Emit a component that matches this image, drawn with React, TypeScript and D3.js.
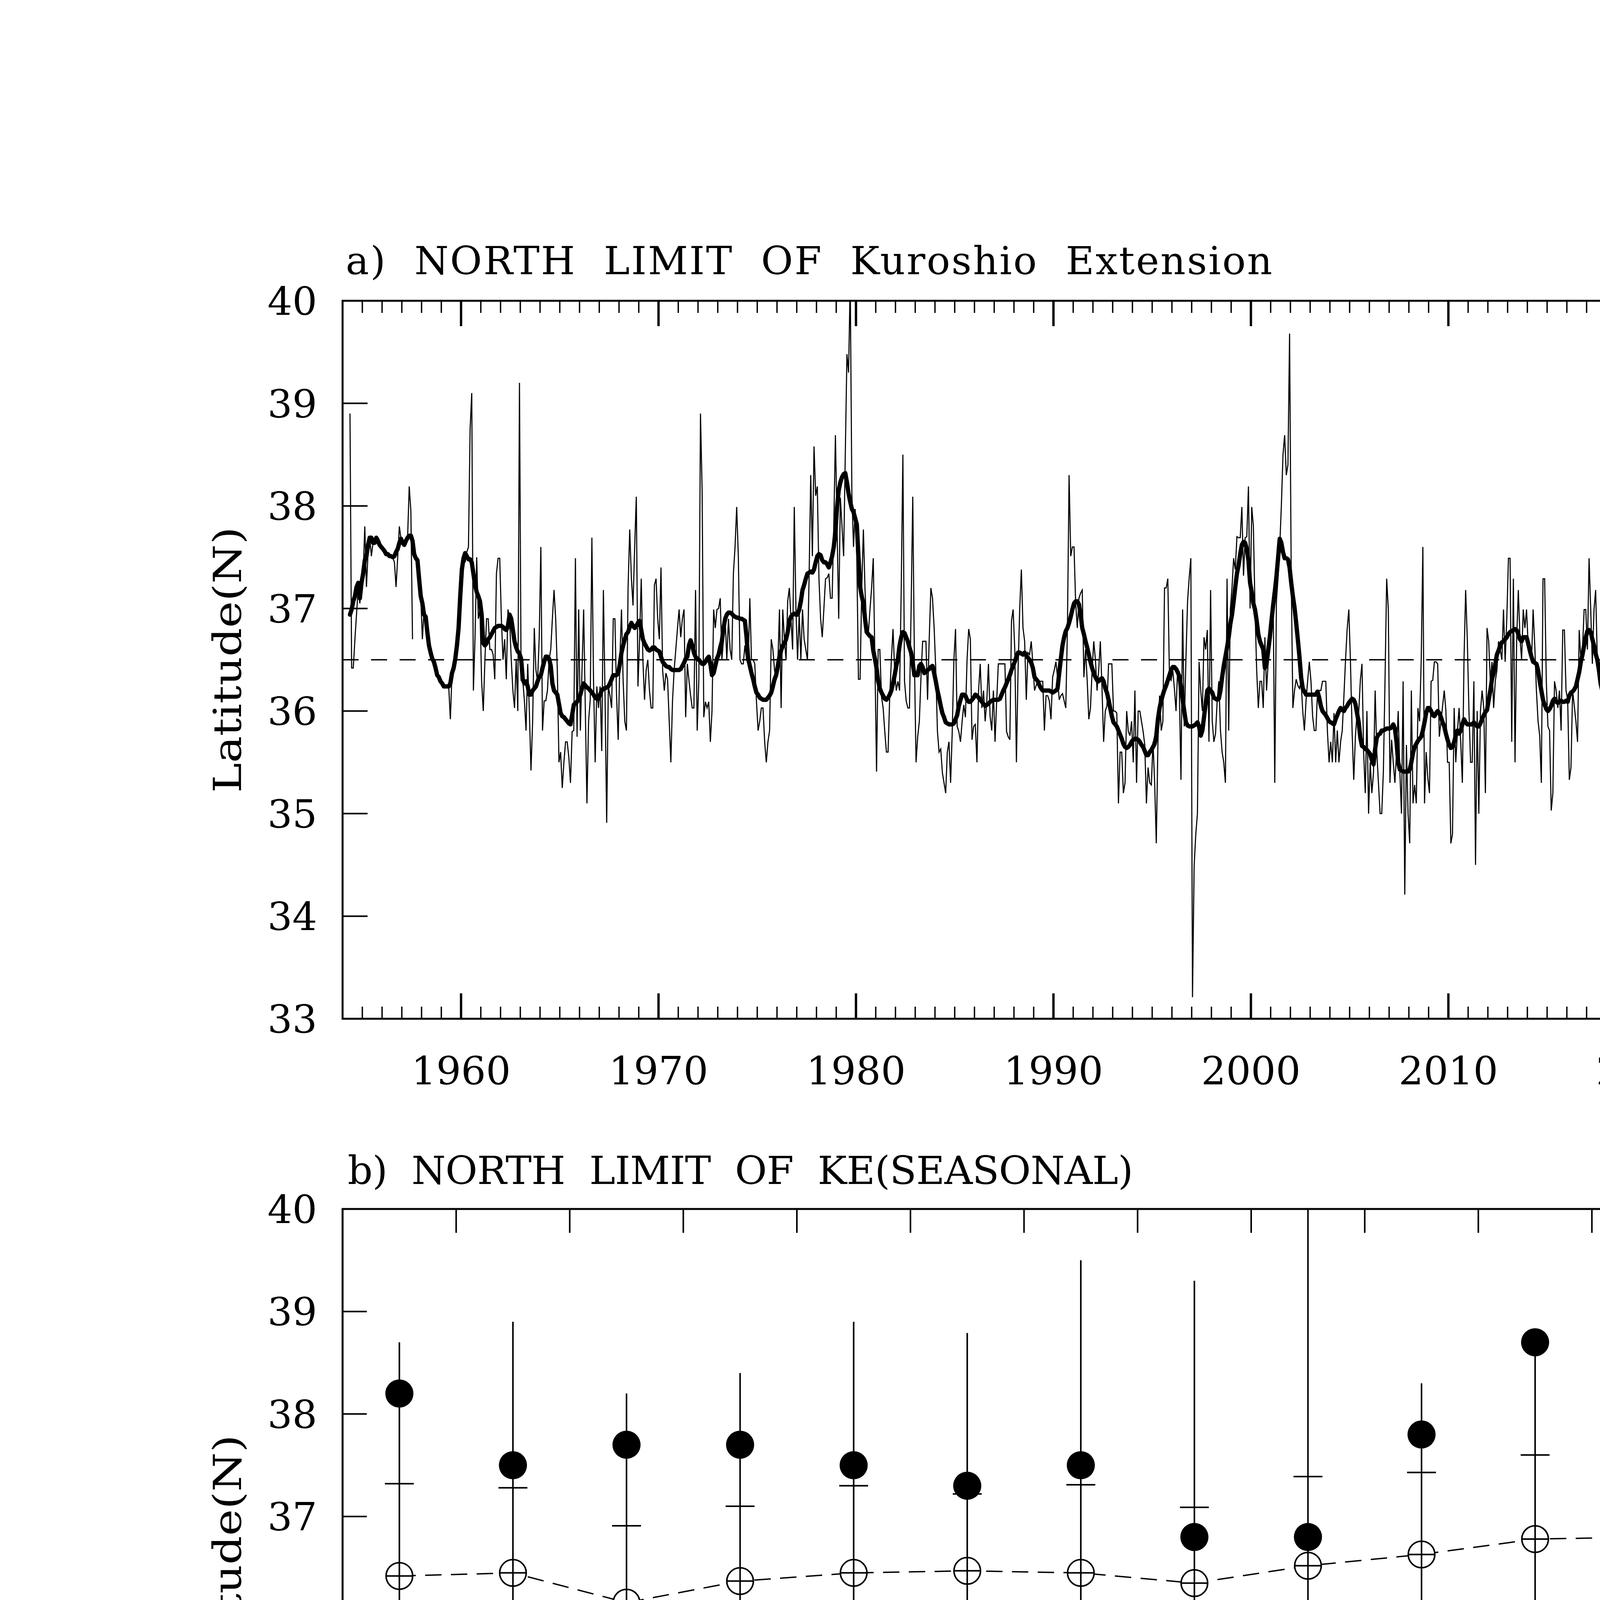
import React from 'react';
import * as d3 from 'd3';

// ---------------- DATA ----------------
// Panel a: monthly northern limit of Kuroshio Extension (deg N), Jan..Dec per year
const firstYear = 1954;
const axisYearStart = 1954;
const axisYearEnd = 2023;
const latMin = 33;
const latMax = 40;
const latTicks = [33, 34, 35, 36, 37, 38, 39, 40];
const decadeTicks = [1960, 1970, 1980, 1990, 2000, 2010, 2020];
const referenceLat = 36.5;

const monthly1950s: (number | null)[][] = [
  [null, null, null, null, 38.9, 36.42, 36.42, 36.7, 36.95, 37.2, 37.05, 37.3],
  [37.34, 37.8, 37.21, 37.55, 37.69, 37.51, 37.64, 37.66, 37.69, 37.67, 37.62, 37.6],
  [37.58, 37.56, 37.53, 37.53, 37.51, 37.51, 37.5, 37.45, 37.21, 37.5, 37.8, 37.68],
  [37.64, 37.62, 37.66, 37.69, 38.19, 37.95, 36.7, null, 37.49, 37.47, 37.29, 37.12],
  [36.7, 36.99, 36.92, 36.77, 36.64, 36.57, 36.51, 36.48, 36.42, 36.35, 36.33, 36.29],
  [36.27, 36.24, 36.24, 36.24, 36.24, 35.92, 36.37, 36.42, 36.51, 36.64, 36.81, 37.12],
];
const monthly1960s: (number | null)[][] = [
  [37.38, 37.5, 37.45, 37.55, 37.6, 38.75, 39.1, 36.2, 36.72, 37.5, 36.9, 36.99],
  [36.29, 36.0, 36.5, 36.9, 36.9, 36.6, 36.6, 36.55, 36.31, 37.34, 37.49, 37.49],
  [36.9, 36.5, 36.7, 36.31, 36.99, 36.9, 36.5, 36.2, 36.03, 36.5, 36.0, 39.2],
  [36.3, 36.3, 36.1, 35.81, 36.46, 36.0, 35.42, 35.9, 36.81, 36.4, 36.29, 36.72],
  [37.6, 35.81, 36.1, 36.1, 36.2, 36.5, 36.6, 36.9, 37.18, 36.9, 36.4, 35.5],
  [35.6, 35.25, 35.5, 35.7, 35.7, 35.55, 35.3, 35.8, 35.81, 37.49, 35.75, 36.99],
  [35.81, 36.4, 36.99, 36.03, 35.1, 35.9, 36.11, 37.69, 36.3, 35.5, 36.24, 36.03],
  [36.24, 35.61, 37.18, 36.15, 34.91, 36.24, 36.15, 36.03, 36.9, 36.9, 36.15, 35.72],
  [36.5, 36.99, 36.29, 35.9, 35.81, 37.2, 37.77, 37.3, 37.03, 37.6, 38.09, 36.24],
  [36.7, 37.29, 36.5, 36.11, 36.4, 36.5, 36.2, 36.03, 36.03, 37.23, 37.29, 36.9],
];
const monthly1970s: (number | null)[][] = [
  [36.7, 37.4, 36.4, 36.2, 36.37, 36.31, 35.9, 35.5, 36.1, 36.4, 36.6, 36.8],
  [36.99, 36.72, 36.9, 36.99, 35.94, 36.46, 36.3, 36.15, 36.03, 36.03, 37.18, 35.81],
  [36.3, 38.9, 38.15, 35.94, 36.09, 36.03, 36.09, 35.7, 36.0, 36.99, 36.81, 36.99],
  [37.0, 37.1, 36.5, 36.7, 36.9, 36.5, 36.9, 36.6, 36.5, 37.34, 37.6, 37.99],
  [37.51, 36.5, 36.46, 36.46, 36.64, 36.5, 36.46, 37.1, 36.5, 36.5, 36.46, 36.1],
  [35.81, 35.9, 36.03, 36.03, 35.7, 35.5, 35.7, 35.81, 36.7, 36.6, 36.4, 36.3],
  [36.46, 36.99, 36.03, 36.99, 36.7, 36.5, 37.07, 37.2, 36.9, 36.6, 37.99, 37.0],
  [36.5, 36.95, 36.5, 36.99, 36.7, 36.6, 36.5, 37.3, 38.3, 37.51, 38.58, 38.1],
  [38.19, 37.29, 36.9, 36.72, 37.0, 37.29, 37.3, 37.34, 37.1, 37.1, 37.8, 38.69],
  [37.8, 36.9, 38.08, 37.8, 37.51, 38.5, 39.48, 39.3, 40.2, 38.12, 37.6, 37.97],
];
const monthly1980s: (number | null)[][] = [
  [37.5, 36.31, 36.31, 37.2, 37.77, 37.18, 36.8, 36.75, 36.99, 37.2, 37.49, 36.5],
  [35.41, 36.6, 36.6, 36.14, 36.03, 35.8, 35.6, 35.6, 36.14, 36.5, 36.8, 36.4],
  [36.2, 36.29, 36.2, 37.2, 38.5, 36.29, 36.1, 36.03, 36.03, 37.0, 38.09, 36.5],
  [35.5, 35.75, 35.9, 36.33, 36.68, 36.68, 36.68, 36.11, 36.7, 37.2, 37.1, 36.81],
  [36.4, 35.8, 35.6, 35.63, 35.4, 35.3, 35.2, 35.6, 35.7, 35.3, 35.8, 36.5],
  [36.8, 35.85, 35.8, 35.7, 35.9, 36.06, 35.94, 36.5, 36.8, 36.7, 35.72, 35.85],
  [35.87, 35.5, 36.2, 36.46, 36.03, 36.2, 35.9, 36.1, 36.46, 35.95, 35.81, 36.2],
  [35.7, 36.1, 36.46, 36.46, 36.46, 36.46, 36.46, 35.8, 35.75, 35.72, 36.88, 36.99],
  [36.6, 35.5, 36.4, 37.0, 37.38, 36.81, 36.68, 36.11, 36.57, 36.55, 36.68, 36.46],
  [36.2, 36.25, 36.29, 36.29, 36.29, 36.29, 35.81, 36.15, 36.15, 36.1, 35.92, 36.33],
];
const monthly1990s: (number | null)[][] = [
  [36.4, 36.48, 36.33, 36.11, 36.15, 36.17, 36.1, 36.03, 36.81, 38.3, 37.51, 37.6],
  [37.6, 37.05, 36.81, 37.1, 37.15, 37.18, 36.33, 36.6, 36.3, 35.92, 36.03, 36.4],
  [36.68, 36.5, 36.2, 36.4, 36.68, 36.22, 35.7, 36.0, 36.05, 36.46, 36.46, 36.46],
  [36.0, 36.0, 35.98, 35.1, 35.6, 35.6, 35.2, 35.3, 36.0, 35.8, 35.76, 35.9],
  [35.5, 36.2, 35.3, 36.0, 36.0, 35.9, 35.8, 35.67, 35.1, 35.45, 35.3, 35.28],
  [35.7, 35.3, 34.71, 35.7, 36.15, 35.81, 35.9, 37.2, 37.2, 37.29, 36.33, 36.3],
  [36.4, 36.22, 36.0, 36.42, 36.2, 35.33, 36.99, 35.85, 36.5, 37.07, 37.3, 37.49],
  [33.21, 34.49, 34.8, 35.0, 36.48, 36.2, 36.0, 36.72, 36.6, 36.79, 35.7, 37.18],
  [35.9, 35.7, 35.78, 36.1, 36.29, 35.81, 35.6, 35.5, 35.3, 37.29, 35.81, 36.99],
  [37.2, 37.49, 37.38, 37.7, 37.69, 37.69, 37.99, 37.32, 37.69, 37.7, 38.19, 37.0],
];
const monthly2000s: (number | null)[][] = [
  [37.99, 37.8, 36.99, 36.4, 36.03, 36.29, 36.29, 36.03, 36.72, 36.2, 36.48, 36.7],
  [36.99, 37.16, 35.3, 37.07, 37.3, 37.6, 38.0, 38.5, 38.69, 38.3, 38.4, 39.68],
  [37.3, 36.03, 36.2, 36.31, 36.25, 36.22, 36.29, 36.0, 35.81, 36.1, 36.3, 36.48],
  [36.29, 35.95, 35.81, 35.81, 36.2, 36.2, 36.2, 36.29, 36.29, 36.29, 35.8, 35.5],
  [35.7, 35.5, 35.98, 35.5, 35.81, 35.5, 35.7, 35.81, 36.14, 36.5, 36.8, 36.99],
  [36.48, 35.8, 35.33, 35.75, 35.98, 35.98, 36.3, 36.46, 35.6, 35.2, 36.0, 35.0],
  [35.5, 35.2, 35.4, 36.2, 35.6, 35.3, 35.0, 35.0, 35.41, 36.3, 37.29, 36.99],
  [35.3, 35.72, 35.5, 35.3, 35.6, 36.0, 35.41, 35.0, 36.29, 34.21, 35.67, 35.0],
  [34.71, 36.2, 35.1, 35.28, 35.1, 36.03, 35.9, 36.5, 37.6, 35.1, 35.6, 35.35],
  [35.2, 36.29, 36.3, 36.48, 36.48, 36.46, 35.75, 35.9, 36.05, 36.2, 36.0, 35.5],
];
const monthly2010s: (number | null)[][] = [
  [35.5, 34.71, 34.8, 36.03, 35.5, 35.8, 36.03, 35.7, 35.3, 36.5, 37.18, 36.7],
  [36.0, 35.5, 35.5, 36.29, 34.5, 36.0, 35.0, 36.0, 36.2, 36.03, 35.2, 36.81],
  [36.68, 36.29, 36.48, 36.03, 36.29, 36.4, 36.68, 36.6, 36.5, 36.99, 36.48, 36.9],
  [37.49, 37.49, 35.7, 37.29, 35.5, 36.7, 37.18, 36.72, 36.5, 36.99, 36.81, 36.99],
  [36.64, 36.55, 36.48, 36.99, 36.64, 36.2, 35.9, 35.76, 35.3, 37.29, 37.29, 36.3],
  [35.85, 35.81, 35.03, 35.2, 36.29, 36.2, 36.03, 36.2, 35.81, 36.79, 36.79, 36.2],
  [36.11, 35.33, 35.45, 36.2, 36.05, 35.9, 35.7, 36.79, 36.5, 36.6, 36.99, 36.99],
  [36.6, 37.49, 36.99, 36.46, 36.99, 37.18, 36.5, 36.4, 36.29, 36.0, 35.5, 36.11],
  [36.03, 35.6, 35.33, 36.03, 36.29, 36.22, 36.3, 36.4, 36.5, 36.7, 36.4, 36.31],
  [36.72, 36.5, 37.69, 37.93, 37.51, 35.81, 36.72, 36.79, 36.72, 36.94, 37.07, 37.69],
];
const monthly2020s: (number | null)[][] = [
  [36.81, 36.99, 37.2, 37.49, 37.4, 37.18, 36.99, 37.49, 37.99, 36.99, 37.2, 37.77],
  [38.69, 37.69, 38.2, 38.4, 37.69, 38.78, 37.69, 38.19, 38.19, 37.51, 37.69, 37.69],
  [38.19, 37.51, 37.69, 37.69, 37.51, 37.29, 37.49, 36.81, 36.81, 37.8, 38.7, 38.19],
];

// Panel a: running mean (thick line)
const smooth1950s: (number | null)[][] = [
  [null, null, null, null, 36.94, 36.99, 37.07, 37.12, 37.21, 37.25, 37.1, 37.25],
  [37.34, 37.47, 37.51, 37.62, 37.69, 37.69, 37.64, 37.64, 37.69, 37.66, 37.62, 37.6],
  [37.58, 37.56, 37.53, 37.53, 37.51, 37.51, 37.5, 37.51, 37.55, 37.58, 37.64, 37.68],
  [37.64, 37.62, 37.66, 37.69, 37.71, 37.71, 37.66, 37.53, 37.49, 37.47, 37.29, 37.12],
  [37.05, 36.94, 36.92, 36.77, 36.64, 36.57, 36.51, 36.48, 36.42, 36.35, 36.33, 36.29],
  [36.27, 36.24, 36.24, 36.24, 36.24, 36.27, 36.37, 36.42, 36.51, 36.64, 36.81, 37.12],
];
const smooth1960s: (number | null)[][] = [
  [37.38, 37.49, 37.54, 37.51, 37.48, 37.48, 37.45, 37.34, 37.23, 37.16, 37.12, 37.07],
  [36.94, 36.66, 36.64, 36.66, 36.7, 36.72, 36.75, 36.78, 36.81, 36.82, 36.83, 36.83],
  [36.83, 36.82, 36.8, 36.79, 36.83, 36.94, 36.9, 36.79, 36.68, 36.62, 36.58, 36.56],
  [36.51, 36.31, 36.27, 36.29, 36.24, 36.16, 36.16, 36.2, 36.22, 36.24, 36.29, 36.33],
  [36.35, 36.42, 36.48, 36.53, 36.53, 36.51, 36.44, 36.27, 36.2, 36.18, 36.16, 36.07],
  [35.98, 35.95, 35.94, 35.92, 35.9, 35.88, 35.87, 35.96, 36.06, 36.08, 36.09, 36.12],
  [36.16, 36.22, 36.27, 36.25, 36.23, 36.22, 36.2, 36.18, 36.16, 36.13, 36.12, 36.12],
  [36.16, 36.2, 36.22, 36.22, 36.23, 36.24, 36.27, 36.31, 36.35, 36.35, 36.35, 36.37],
  [36.46, 36.57, 36.64, 36.7, 36.75, 36.77, 36.82, 36.86, 36.83, 36.81, 36.83, 36.86],
  [36.88, 36.79, 36.7, 36.66, 36.63, 36.6, 36.59, 36.6, 36.62, 36.62, 36.6, 36.59],
];
const smooth1970s: (number | null)[][] = [
  [36.58, 36.53, 36.48, 36.46, 36.44, 36.43, 36.43, 36.41, 36.4, 36.4, 36.4, 36.4],
  [36.4, 36.41, 36.44, 36.47, 36.51, 36.53, 36.64, 36.69, 36.64, 36.57, 36.53, 36.51],
  [36.5, 36.48, 36.46, 36.46, 36.48, 36.51, 36.53, 36.46, 36.35, 36.37, 36.44, 36.51],
  [36.55, 36.62, 36.68, 36.81, 36.9, 36.94, 36.96, 36.96, 36.95, 36.93, 36.92, 36.91],
  [36.91, 36.9, 36.9, 36.89, 36.88, 36.72, 36.51, 36.44, 36.37, 36.31, 36.24, 36.18],
  [36.16, 36.13, 36.12, 36.11, 36.11, 36.11, 36.13, 36.15, 36.18, 36.24, 36.31, 36.35],
  [36.44, 36.53, 36.59, 36.64, 36.66, 36.7, 36.77, 36.88, 36.92, 36.94, 36.95, 36.94],
  [36.94, 36.99, 37.07, 37.18, 37.23, 37.29, 37.34, 37.35, 37.36, 37.35, 37.38, 37.45],
  [37.51, 37.53, 37.52, 37.47, 37.45, 37.45, 37.43, 37.4, 37.45, 37.51, 37.6, 37.75],
  [37.99, 38.15, 38.23, 38.28, 38.31, 38.32, 38.23, 38.12, 38.04, 37.97, 37.94, 37.88],
];
const smooth1980s: (number | null)[][] = [
  [37.82, 37.51, 37.21, 37.12, 37.05, 36.9, 36.77, 36.75, 36.73, 36.72, 36.59, 36.51],
  [36.42, 36.29, 36.22, 36.18, 36.15, 36.12, 36.11, 36.13, 36.16, 36.2, 36.27, 36.35],
  [36.44, 36.51, 36.64, 36.72, 36.77, 36.76, 36.72, 36.68, 36.62, 36.57, 36.46, 36.35],
  [36.35, 36.35, 36.44, 36.46, 36.43, 36.37, 36.38, 36.4, 36.41, 36.43, 36.44, 36.37],
  [36.29, 36.2, 36.13, 36.05, 35.98, 35.94, 35.89, 35.88, 35.87, 35.87, 35.87, 35.88],
  [35.92, 35.96, 36.05, 36.11, 36.16, 36.16, 36.15, 36.11, 36.09, 36.09, 36.11, 36.13],
  [36.16, 36.15, 36.13, 36.11, 36.09, 36.07, 36.05, 36.06, 36.07, 36.09, 36.1, 36.11],
  [36.11, 36.11, 36.11, 36.12, 36.16, 36.2, 36.23, 36.27, 36.31, 36.35, 36.4, 36.44],
  [36.48, 36.53, 36.57, 36.57, 36.56, 36.55, 36.57, 36.54, 36.52, 36.5, 36.47, 36.42],
  [36.33, 36.31, 36.29, 36.25, 36.22, 36.2, 36.2, 36.2, 36.2, 36.2, 36.19, 36.18],
];
const smooth1990s: (number | null)[][] = [
  [36.19, 36.2, 36.22, 36.37, 36.51, 36.64, 36.72, 36.78, 36.81, 36.86, 36.92, 36.99],
  [37.05, 37.07, 37.07, 37.04, 36.94, 36.81, 36.75, 36.68, 36.62, 36.55, 36.48, 36.42],
  [36.37, 36.33, 36.3, 36.29, 36.31, 36.32, 36.29, 36.22, 36.18, 36.11, 36.03, 35.95],
  [35.89, 35.87, 35.85, 35.81, 35.77, 35.73, 35.68, 35.65, 35.64, 35.65, 35.67, 35.7],
  [35.72, 35.73, 35.73, 35.72, 35.7, 35.67, 35.65, 35.61, 35.57, 35.57, 35.6, 35.62],
  [35.65, 35.68, 35.76, 35.92, 36.03, 36.1, 36.16, 36.21, 36.25, 36.3, 36.35, 36.4],
  [36.43, 36.43, 36.41, 36.38, 36.34, 36.24, 36.11, 36.0, 35.89, 35.86, 35.85, 35.85],
  [35.85, 35.86, 35.87, 35.89, 35.85, 35.76, 35.81, 35.94, 36.07, 36.2, 36.22, 36.2],
  [36.18, 36.13, 36.12, 36.11, 36.12, 36.2, 36.33, 36.44, 36.53, 36.62, 36.72, 36.85],
  [36.94, 37.07, 37.21, 37.34, 37.42, 37.53, 37.62, 37.65, 37.64, 37.58, 37.47, 37.25],
];
const smooth2000s: (number | null)[][] = [
  [37.16, 37.05, 36.99, 36.88, 36.75, 36.68, 36.64, 36.6, 36.42, 36.46, 36.59, 36.72],
  [36.88, 37.03, 37.16, 37.31, 37.49, 37.68, 37.64, 37.55, 37.49, 37.49, 37.48, 37.4],
  [37.25, 37.12, 37.01, 36.86, 36.7, 36.53, 36.33, 36.22, 36.19, 36.16, 36.16, 36.16],
  [36.16, 36.16, 36.16, 36.16, 36.19, 36.13, 36.05, 36.0, 35.98, 35.96, 35.93, 35.9],
  [35.89, 35.88, 35.87, 35.92, 35.96, 36.0, 36.03, 36.01, 36.0, 36.03, 36.05, 36.08],
  [36.1, 36.12, 36.11, 36.07, 35.98, 35.89, 35.74, 35.66, 35.65, 35.63, 35.62, 35.6],
  [35.58, 35.52, 35.48, 35.63, 35.74, 35.77, 35.78, 35.81, 35.81, 35.82, 35.83, 35.83],
  [35.83, 35.84, 35.87, 35.83, 35.7, 35.5, 35.43, 35.42, 35.41, 35.41, 35.41, 35.41],
  [35.43, 35.5, 35.59, 35.65, 35.68, 35.71, 35.73, 35.75, 35.81, 35.89, 35.98, 36.03],
  [36.03, 36.0, 35.96, 35.95, 35.98, 36.0, 35.98, 35.94, 35.89, 35.85, 35.78, 35.72],
];
const smooth2010s: (number | null)[][] = [
  [35.67, 35.64, 35.65, 35.7, 35.76, 35.81, 35.78, 35.81, 35.87, 35.92, 35.89, 35.87],
  [35.87, 35.87, 35.87, 35.89, 35.87, 35.85, 35.85, 35.88, 35.92, 35.96, 35.99, 36.01],
  [36.11, 36.2, 36.31, 36.37, 36.46, 36.55, 36.59, 36.64, 36.67, 36.68, 36.7, 36.72],
  [36.75, 36.77, 36.78, 36.79, 36.8, 36.79, 36.75, 36.7, 36.68, 36.72, 36.72, 36.72],
  [36.66, 36.59, 36.53, 36.48, 36.47, 36.46, 36.4, 36.29, 36.2, 36.11, 36.06, 36.02],
  [36.0, 36.02, 36.05, 36.1, 36.12, 36.09, 36.08, 36.09, 36.1, 36.09, 36.09, 36.1],
  [36.09, 36.15, 36.18, 36.19, 36.21, 36.24, 36.31, 36.38, 36.48, 36.55, 36.64, 36.72],
  [36.78, 36.79, 36.77, 36.7, 36.64, 36.56, 36.5, 36.4, 36.27, 36.2, 36.16, 36.11],
  [36.08, 36.07, 36.07, 36.08, 36.09, 36.13, 36.18, 36.22, 36.37, 36.55, 36.64, 36.67],
  [36.72, 36.75, 36.77, 36.8, 36.86, 36.94, 36.99, 37.02, 37.03, 37.01, 36.99, 36.98],
];
const smooth2020s: (number | null)[][] = [
  [37.01, 37.07, 37.14, 37.21, 37.25, 37.31, 37.38, 37.45, 37.51, 37.6, 37.71, 37.77],
  [37.82, 37.87, 37.93, 37.97, 37.99, 38.01, 38.04, 38.01, 37.95, 37.9, 37.84, 37.75],
  [37.71, 37.62, 37.56, 37.55, 37.6, 37.64, null, null, null, null, null, null],
];

// Panel b: seasonal statistics
const monthNames = ['JAN', 'FEB', 'MAR', 'APR', 'MAY', 'JUN', 'JUL', 'AUG', 'SEP', 'OCT', 'NOV', 'DEC'];
const climMean = [36.42, 36.45, 36.16, 36.37, 36.45, 36.47, 36.45, 36.35, 36.52, 36.63, 36.78, 36.8];
const climPlusSd = [37.32, 37.28, 36.91, 37.1, 37.3, 37.22, 37.31, 37.09, 37.39, 37.43, 37.6, 37.65];
const climMinusSd = [35.51, 35.64, 35.42, 35.64, 35.61, 35.73, 35.59, 35.61, 35.65, 35.83, 35.94, 35.94];
const climMax = [38.7, 38.9, 38.2, 38.4, 38.9, 38.79, 39.5, 39.3, 40.0, 38.3, 38.7, 39.7];
const climMin = [33.2, 34.49, 34.69, 34.99, 34.49, 35.29, 35.0, 35.0, 35.1, 34.19, 35.19, 35.0];
const latestYear = [38.2, 37.5, 37.7, 37.7, 37.5, 37.3, 37.5, 36.8, 36.8, 37.8, 38.7, 38.2];

const titleA = 'a)  NORTH  LIMIT  OF  Kuroshio  Extension';
const titleB = 'b)  NORTH  LIMIT  OF  KE(SEASONAL)';
const yTitle = 'Latitude(N)';

// ---------------- DRAWING ----------------
const W = 4958;
const H = 7017;
const FONT = "'DejaVu Serif', 'Liberation Serif', serif";
const FS = 100;

type Pt = { t: number; v: number | null };

function toPoints(rows: (number | null)[][]): Pt[] {
  return rows.flat().map((v, i) => ({ t: firstYear + (i + 0.5) / 12, v }));
}

export default function App() {
  const A = { l: 877, r: 4365, t: 770, b: 2608 };
  const B = { l: 877, r: 4366, t: 3095, b: 4932 };

  const xA = d3.scaleLinear().domain([axisYearStart, axisYearEnd]).range([A.l, A.r]);
  const yA = d3.scaleLinear().domain([latMin, latMax]).range([A.b, A.t]);

  const thin = toPoints([
    ...monthly1950s, ...monthly1960s, ...monthly1970s, ...monthly1980s,
    ...monthly1990s, ...monthly2000s, ...monthly2010s, ...monthly2020s,
  ]);
  const thick = toPoints([
    ...smooth1950s, ...smooth1960s, ...smooth1970s, ...smooth1980s,
    ...smooth1990s, ...smooth2000s, ...smooth2010s, ...smooth2020s,
  ]);

  const lineA = d3
    .line<Pt>()
    .defined((d) => d.v != null)
    .x((d) => xA(d.t))
    .y((d) => yA(d.v as number));

  const minorYears = d3.range(axisYearStart + 1, axisYearEnd).filter((yr) => yr % 10 !== 0);

  const xB = d3.scaleBand<string>().domain(monthNames).range([B.l, B.r]).padding(0);
  const yB = d3.scaleLinear().domain([latMin, latMax]).range([B.b, B.t]);
  const bw = xB.bandwidth();
  const cx = (m: string) => (xB(m) as number) + bw / 2;

  const meanLine = d3
    .line<number>()
    .x((_, i) => cx(monthNames[i]))
    .y((v) => yB(v));

  const axisW = 5;
  const tickW = 4;

  const yTickLabels = (yS: d3.ScaleLinear<number, number>, box: typeof A) =>
    latTicks.map((v) => (
      <text
        key={'yl' + v}
        x={box.l - 65}
        y={yS(v)}
        dy="0.36em"
        textAnchor="end"
        fontSize={FS}
        fontFamily={FONT}
      >
        {String(v)}
      </text>
    ));

  const yTickMarks = (yS: d3.ScaleLinear<number, number>, box: typeof A, len: number) =>
    latTicks.map((v) => (
      <g key={'yt' + v}>
        <line x1={box.l} x2={box.l + len} y1={yS(v)} y2={yS(v)} stroke="#000" strokeWidth={tickW} />
        <line x1={box.r - len} x2={box.r} y1={yS(v)} y2={yS(v)} stroke="#000" strokeWidth={tickW} />
      </g>
    ));

  return (
    <svg
      width={W}
      height={H}
      viewBox={`0 0 ${W} ${H}`}
      style={{ position: 'absolute', left: 0, top: 0, background: '#fff' }}
    >
      <rect x={0} y={0} width={W} height={H} fill="#fff" />
      <defs>
        <clipPath id="clipA">
          <rect x={A.l} y={A.t} width={A.r - A.l} height={A.b - A.t} />
        </clipPath>
        <clipPath id="clipB">
          <rect x={B.l} y={B.t} width={B.r - B.l} height={B.b - B.t} />
        </clipPath>
      </defs>

      {/* ---------- Panel a ---------- */}
      <text
        x={885}
        y={702}
        fontSize={FS}
        fontFamily={FONT}
        textLength={2372}
        lengthAdjust="spacing"
        style={{ whiteSpace: 'pre' }}
      >
        {titleA}
      </text>

      <g clipPath="url(#clipA)">
        <line
          x1={A.l}
          x2={A.r}
          y1={yA(referenceLat)}
          y2={yA(referenceLat)}
          stroke="#000"
          strokeWidth={3.5}
          strokeDasharray="41 32"
        />
        <path d={lineA(thin) || ''} fill="none" stroke="#000" strokeWidth={2.8} strokeLinejoin="miter" />
        <path d={lineA(thick) || ''} fill="none" stroke="#000" strokeWidth={11} strokeLinejoin="round" strokeLinecap="round" />
      </g>

      {/* ticks */}
      {minorYears.map((yr) => (
        <g key={'mn' + yr}>
          <line x1={xA(yr)} x2={xA(yr)} y1={A.b} y2={A.b - 31} stroke="#000" strokeWidth={3.5} />
          <line x1={xA(yr)} x2={xA(yr)} y1={A.t} y2={A.t + 31} stroke="#000" strokeWidth={3.5} />
        </g>
      ))}
      {decadeTicks.map((yr) => (
        <g key={'mj' + yr}>
          <line x1={xA(yr)} x2={xA(yr)} y1={A.b} y2={A.b - 65} stroke="#000" strokeWidth={6} />
          <line x1={xA(yr)} x2={xA(yr)} y1={A.t} y2={A.t + 65} stroke="#000" strokeWidth={6} />
          <text x={xA(yr)} y={2776} textAnchor="middle" fontSize={FS} fontFamily={FONT}>
            {String(yr)}
          </text>
        </g>
      ))}
      {yTickMarks(yA, A, 64)}
      {yTickLabels(yA, A)}
      <rect x={A.l} y={A.t} width={A.r - A.l} height={A.b - A.t} fill="none" stroke="#000" strokeWidth={axisW} />
      <text
        transform={`translate(617, ${(A.t + A.b) / 2}) rotate(-90)`}
        textAnchor="middle"
        fontSize={FS}
        fontFamily={FONT}
        textLength={681}
        lengthAdjust="spacingAndGlyphs"
      >
        {yTitle}
      </text>

      {/* ---------- Panel b ---------- */}
      <text
        x={890}
        y={3031}
        fontSize={FS}
        fontFamily={FONT}
        textLength={2011}
        lengthAdjust="spacing"
        style={{ whiteSpace: 'pre' }}
      >
        {titleB}
      </text>

      <g clipPath="url(#clipB)">
        {monthNames.map((m, i) => (
          <g key={'wh' + m}>
            <line x1={cx(m)} x2={cx(m)} y1={yB(climMin[i])} y2={yB(climMax[i])} stroke="#000" strokeWidth={4} />
            <line x1={cx(m) - 37} x2={cx(m) + 37} y1={yB(climPlusSd[i])} y2={yB(climPlusSd[i])} stroke="#000" strokeWidth={4} />
            <line x1={cx(m) - 37} x2={cx(m) + 37} y1={yB(climMinusSd[i])} y2={yB(climMinusSd[i])} stroke="#000" strokeWidth={4} />
          </g>
        ))}
        <path d={meanLine(climMean) || ''} fill="none" stroke="#000" strokeWidth={3.5} strokeDasharray="42 24" />
        {monthNames.map((m, i) => (
          <g key={'mc' + m}>
            <circle cx={cx(m)} cy={yB(climMean[i])} r={34} fill="#fff" stroke="#000" strokeWidth={4} />
            <line x1={cx(m)} x2={cx(m)} y1={yB(climMean[i]) - 34} y2={yB(climMean[i]) + 34} stroke="#000" strokeWidth={4} />
            <line x1={cx(m) - 34} x2={cx(m) + 34} y1={yB(climMean[i])} y2={yB(climMean[i])} stroke="#000" strokeWidth={4} />
          </g>
        ))}
        {monthNames.map((m, i) => (
          <circle key={'ly' + m} cx={cx(m)} cy={yB(latestYear[i])} r={36} fill="#000" />
        ))}
      </g>

      {monthNames.slice(1).map((m) => (
        <g key={'bt' + m}>
          <line x1={xB(m) as number} x2={xB(m) as number} y1={B.b} y2={B.b - 61} stroke="#000" strokeWidth={tickW} />
          <line x1={xB(m) as number} x2={xB(m) as number} y1={B.t} y2={B.t + 61} stroke="#000" strokeWidth={tickW} />
        </g>
      ))}
      {monthNames.map((m) => (
        <text key={'ml' + m} x={cx(m)} y={5070} textAnchor="middle" fontSize={FS} fontFamily={FONT}>
          {m}
        </text>
      ))}
      {yTickMarks(yB, B, 62)}
      {yTickLabels(yB, B)}
      <rect x={B.l} y={B.t} width={B.r - B.l} height={B.b - B.t} fill="none" stroke="#000" strokeWidth={axisW} />
      <text
        transform={`translate(617, ${(B.t + B.b) / 2}) rotate(-90)`}
        textAnchor="middle"
        fontSize={FS}
        fontFamily={FONT}
        textLength={681}
        lengthAdjust="spacingAndGlyphs"
      >
        {yTitle}
      </text>
    </svg>
  );
}
